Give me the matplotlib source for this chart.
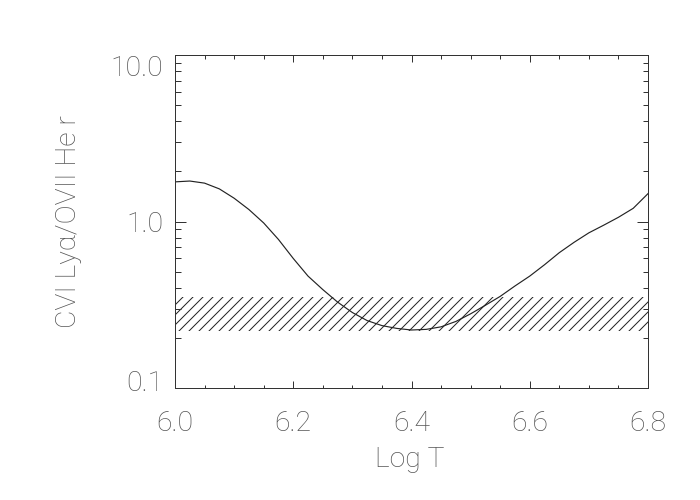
import matplotlib
matplotlib.use("Agg")
import matplotlib.pyplot as plt
import matplotlib.transforms as mtransforms
from matplotlib.ticker import FixedLocator, NullFormatter

# ---- data ----
log_t = [6.000, 6.025, 6.050, 6.075, 6.100, 6.125, 6.150, 6.175, 6.200, 6.225,
         6.250, 6.275, 6.300, 6.325, 6.350, 6.375, 6.400, 6.425, 6.450, 6.475,
         6.500, 6.525, 6.550, 6.575, 6.600, 6.625, 6.650, 6.675, 6.700, 6.725,
         6.750, 6.775, 6.800]
ratio = [1.73, 1.75, 1.70, 1.57, 1.38, 1.18, 0.98, 0.78, 0.60, 0.47,
         0.39, 0.328, 0.284, 0.254, 0.237, 0.228, 0.223, 0.225, 0.233, 0.251,
         0.279, 0.314, 0.355, 0.41, 0.47, 0.55, 0.65, 0.75, 0.855, 0.95,
         1.06, 1.20, 1.47]
band_x = [6.0, 6.8]
band_low = 0.22
band_high = 0.35
x_ticks = [6.0, 6.2, 6.4, 6.6, 6.8]
x_ticklabels = ["6.0", "6.2", "6.4", "6.6", "6.8"]
y_ticks = [0.1, 1.0, 10.0]
y_ticklabels = ["0.1", "1.0", "10.0"]
x_label = "Log T"
y_label = "CVI Ly\u03b1/OVII He r"

DPI = 120
plt.rcParams['font.family'] = ['Roboto', 'DejaVu Sans']
plt.rcParams['hatch.linewidth'] = 0.6
plt.rcParams['hatch.color'] = '#222222'

fig = plt.figure(figsize=(700 / DPI, 500 / DPI), dpi=DPI)
ax = fig.add_axes([175 / 700, 1 - 388 / 500, 473 / 700, 333 / 500])

ax.fill_between(band_x, band_low, band_high, facecolor='none',
                edgecolor='#222222', hatch='////', linewidth=0)
ax.plot(log_t, ratio, color='#222222', lw=0.7)

ax.set_yscale('log')
ax.set_xlim(6.0, 6.8)
ax.set_ylim(0.1, 10.0)

ax.xaxis.set_major_locator(FixedLocator(x_ticks))
ax.set_xticklabels(x_ticklabels)
ax.xaxis.set_minor_locator(FixedLocator([6.0 + 0.05 * i for i in range(17)]))
ax.yaxis.set_major_locator(FixedLocator(y_ticks))
ax.set_yticklabels(y_ticklabels)
ax.yaxis.set_minor_locator(FixedLocator([m * d for d in (0.1, 1.0) for m in range(2, 10)]))
ax.yaxis.set_minor_formatter(NullFormatter())

tc = '#555555'
fs = 17
ax.tick_params(axis='both', which='both', direction='in', top=True, right=True,
               width=0.6, color='#333333')
ax.tick_params(axis='x', which='major', length=4.2, pad=13, labelsize=fs, labelcolor=tc)
ax.tick_params(axis='x', which='minor', length=2.1)
ax.tick_params(axis='y', which='major', length=6.6, pad=7, labelsize=fs, labelcolor=tc)
ax.tick_params(axis='y', which='minor', length=3.3)

for lab in ax.get_xticklabels() + ax.get_yticklabels():
    lab.set_fontweight('light')

# nudge end labels inward, as in the reference
offsets = {0: 8, 2: -10}  # pixels (up positive)
for i, tick in enumerate(ax.yaxis.get_major_ticks()):
    if i in offsets:
        dy = offsets[i] / DPI
        tick.label1.set_transform(tick.label1.get_transform() +
                                  mtransforms.ScaledTranslation(0, dy, fig.dpi_scale_trans))

for s in ax.spines.values():
    s.set_linewidth(0.6)
    s.set_color('#333333')

fig.text(410 / 700, 1 - 467 / 500, x_label, ha='center', va='baseline',
         fontsize=fs, color=tc, fontweight='light')
fig.text(76 / 700, 1 - 222 / 500, y_label, ha='center', va='baseline',
         rotation=90, rotation_mode='anchor', fontsize=fs, color=tc,
         fontweight='light')

fig.savefig('out.png', dpi=DPI)
